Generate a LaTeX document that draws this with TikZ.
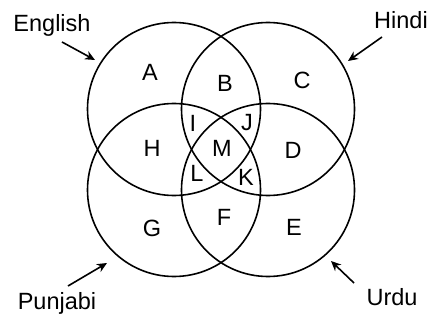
\documentclass[tikz,border=0pt]{standalone}
\usepackage{fontspec}
\setmainfont{Liberation Sans}
\usetikzlibrary{arrows.meta}

\begin{document}
\begin{tikzpicture}[x=1pt,y=-1pt,thick,
  lang/.style={draw,circle,line width=1.6pt,minimum size=173pt,inner sep=0pt},
  region/.style={font=\fontsize{23.5}{27}\selectfont,inner sep=0pt},
  tag/.style={font=\fontsize{23.5}{27}\selectfont,inner sep=0pt},
  pointer/.style={line width=1.6pt,-{Stealth[length=10pt,width=9pt]}}]

\useasboundingbox (0,0) rectangle (435,320);

% Four language circles
\node[lang] (english) at (174,109) {};
\node[lang] (hindi)   at (268,109) {};
\node[lang] (punjabi) at (174,190) {};
\node[lang] (urdu)    at (268,190) {};

% Region letters
\node[region] (A) at (150,72)  {A};
\node[region] (B) at (225,83)  {B};
\node[region] (C) at (302,80)  {C};
\node[region] (H) at (152,148) {H};
\node[region] (I) at (193,123) {I};
\node[region] (M) at (222,148) {M};
\node[region] (J) at (247,123) {J};
\node[region] (D) at (293,150) {D};
\node[region] (L) at (197,173) {L};
\node[region] (K) at (246,177) {K};
\node[region] (G) at (152,228) {G};
\node[region] (F) at (224,217) {F};
\node[region] (E) at (294,227) {E};

% Names
\node[tag] (englishtag) at (52,25)  {English};
\node[tag] (hinditag)   at (401,20) {Hindi};
\node[tag] (punjabitag) at (57,303) {Punjabi};
\node[tag] (urdutag)    at (392,297) {Urdu};

% Arrow ends
\coordinate (englishfrom) at (62,42);
\coordinate (englishto)   at (95,60);
\coordinate (hindifrom)   at (382,37);
\coordinate (hindito)     at (348,61);
\coordinate (punjabifrom) at (68,286);
\coordinate (punjabito)   at (107,263);
\coordinate (urdufrom)    at (354,283);
\coordinate (urduto)      at (331,261);

\draw[pointer] (englishfrom) -- (englishto);
\draw[pointer] (hindifrom) -- (hindito);
\draw[pointer] (punjabifrom) -- (punjabito);
\draw[pointer] (urdufrom) -- (urduto);

\end{tikzpicture}
\end{document}
